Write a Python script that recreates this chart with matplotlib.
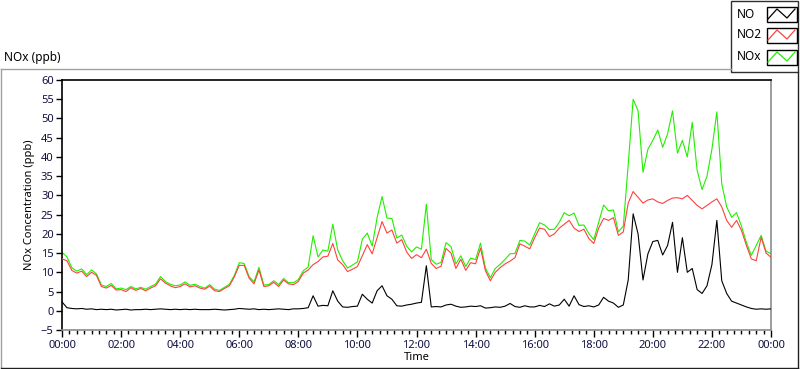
import matplotlib
matplotlib.use("Agg")
import matplotlib.pyplot as plt
import numpy as np
from matplotlib.lines import Line2D
from matplotlib.patches import Rectangle

plt.rcParams['font.family'] = ['Noto Sans', 'DejaVu Sans']

# NOx-mätning, ett värde var 10:e minut (00:00 - 24:00)
sample_step_min = 10

no_ppb = [
    2.3, 0.8, 0.6, 0.5, 0.6, 0.4,
    0.5, 0.3, 0.4, 0.3, 0.4, 0.2,
    0.3, 0.4, 0.2, 0.3, 0.3, 0.4,
    0.3, 0.4, 0.5, 0.4, 0.3, 0.4,
    0.3, 0.4, 0.3, 0.4, 0.3, 0.3,
    0.3, 0.4, 0.3, 0.2, 0.3, 0.4,
    0.6, 0.5, 0.4, 0.5, 0.3, 0.4,
    0.3, 0.4, 0.5, 0.4, 0.3, 0.5,
    0.5, 0.6, 0.8, 3.9, 1.2, 1.4,
    1.3, 5.2, 2.5, 1.0, 0.9, 1.1,
    1.2, 4.3, 3.0, 2.0, 5.2, 6.5,
    3.9, 3.0, 1.3, 1.2, 1.5, 1.7,
    2.0, 2.2, 11.7, 1.0, 1.1, 1.0,
    1.5, 1.7, 1.2, 0.9, 1.0, 1.2,
    1.1, 1.3, 0.7, 0.8, 1.0, 0.9,
    1.2, 1.9, 1.1, 0.9, 1.3, 1.0,
    1.0, 1.4, 1.1, 1.8, 1.2, 1.5,
    3.0, 1.2, 3.9, 1.6, 1.1, 1.3,
    1.0, 1.5, 3.5, 2.5, 2.0, 0.9,
    1.5, 8.0, 25.2, 20.0, 8.0, 14.8,
    18.0, 18.3, 14.5, 17.0, 23.0, 10.0,
    19.0, 10.0, 11.0, 5.5, 4.5, 6.5,
    12.0, 23.5, 7.8, 4.5, 2.5, 2.0,
    1.5, 1.0, 0.6, 0.4, 0.5, 0.4,
    0.5,
]

no2_ppb = [
    13.5, 13.0, 10.5, 9.8, 10.3, 8.9,
    10.0, 9.2, 6.3, 5.9, 6.6, 5.4,
    5.5, 5.0, 6.0, 5.3, 5.8, 5.2,
    5.9, 6.5, 8.3, 7.2, 6.5, 6.0,
    6.3, 7.0, 6.2, 6.5, 5.9, 5.6,
    6.4, 5.2, 5.0, 5.8, 6.5, 8.8,
    11.8, 11.8, 8.5, 7.0, 10.6, 6.3,
    6.5, 7.4, 6.3, 8.0, 7.0, 6.8,
    7.6, 9.8, 10.6, 12.0, 12.8, 14.0,
    14.2, 17.5, 13.2, 12.0, 10.2, 10.8,
    11.5, 14.3, 17.2, 14.8, 19.0, 23.2,
    20.2, 21.0, 17.6, 18.5, 15.3, 13.6,
    14.6, 13.8, 16.0, 12.3, 11.0, 11.6,
    16.2, 15.0, 11.0, 13.4, 10.5, 12.5,
    12.2, 16.3, 10.4, 7.8, 10.0, 11.2,
    12.2, 12.9, 13.8, 17.4, 16.8, 16.1,
    19.0, 21.5, 21.2, 19.3, 20.0, 21.5,
    22.5, 23.5, 21.5, 20.6, 21.2, 18.8,
    17.5, 21.5, 24.0, 23.5, 24.2, 19.6,
    20.5, 28.0, 31.0, 29.5, 28.0, 28.8,
    29.1, 28.3, 27.9, 28.7, 29.3, 29.4,
    29.1, 30.0, 28.7, 27.4, 26.5, 27.4,
    28.3, 29.1, 27.0, 23.5, 21.7, 23.5,
    20.9, 17.0, 13.5, 13.0, 19.1, 15.0,
    13.9,
]

nox_ppb = [
    15.2, 14.0, 11.2, 10.3, 10.9, 9.4,
    10.6, 9.6, 6.7, 6.3, 7.1, 5.7,
    5.9, 5.5, 6.3, 5.7, 6.1, 5.6,
    6.3, 6.9, 8.9, 7.6, 6.9, 6.5,
    6.7, 7.5, 6.6, 6.9, 6.3, 5.9,
    6.8, 5.6, 5.3, 6.1, 6.9, 9.2,
    12.5, 12.3, 8.9, 7.5, 11.3, 6.7,
    6.8, 7.8, 6.8, 8.4, 7.3, 7.3,
    8.1, 10.4, 11.4, 19.5, 14.0, 15.8,
    15.5, 22.5, 15.8, 13.0, 11.1, 11.9,
    12.7, 18.6, 20.2, 16.8, 24.2, 29.7,
    24.1, 24.0, 18.9, 19.7, 16.8, 15.3,
    16.6, 16.0, 27.7, 13.3, 12.1, 12.6,
    17.7, 16.7, 12.2, 14.3, 11.5, 13.7,
    13.3, 17.6, 11.1, 8.6, 11.0, 12.1,
    13.4, 14.8, 14.9, 18.3, 18.1, 17.1,
    20.0, 22.9, 22.3, 21.1, 21.2, 23.0,
    25.5, 24.7, 25.4, 22.2, 22.3, 20.1,
    18.5, 23.0, 27.5, 26.0, 26.2, 20.5,
    22.0, 38.0, 55.0, 52.0, 36.0, 42.0,
    44.3, 47.0, 42.5, 46.0, 52.0, 41.0,
    44.3, 40.0, 49.0, 36.5, 31.5, 35.0,
    42.0, 51.7, 33.0, 27.0, 24.3, 25.5,
    22.0, 17.8, 14.4, 17.0, 19.6, 15.5,
    14.8,
]

tick_hours = [0, 2, 4, 6, 8, 10, 12, 14, 16, 18, 20, 22, 24]
tick_labels = ["00:00", "02:00", "04:00", "06:00", "08:00", "10:00", "12:00",
               "14:00", "16:00", "18:00", "20:00", "22:00", "00:00"]
series_names = ["NO", "NO2", "NOx"]
series_colors = ["#000000", "#ff4040", "#22ee00"]

t_hours = np.arange(len(no_ppb)) * sample_step_min / 60.0

W, H = 800, 369
fig = plt.figure(figsize=(W / 100, H / 100), dpi=100)


def fx(x):
    return x / W


def fy(y):
    return 1 - y / H


# yttre ram runt diagrammet
fig.add_artist(Line2D([fx(1), fx(731)], [fy(68.5), fy(68.5)], color="#a0a0a0", lw=1))
fig.add_artist(Line2D([fx(1), fx(1)], [fy(68.5), fy(367)], color="#a0a0a0", lw=1))
fig.add_artist(Line2D([fx(1), fx(798)], [fy(367.5), fy(367.5)], color="#202020", lw=1))
fig.add_artist(Line2D([fx(798), fx(798)], [fy(72), fy(367.5)], color="#202020", lw=1))

ax = fig.add_axes([fx(62), fy(330), fx(771) - fx(62), fy(80) - fy(330)])

# grön först så att röd och svart hamnar ovanpå
ax.plot(t_hours, nox_ppb, color=series_colors[2], lw=0.8, zorder=2)
ax.plot(t_hours, no2_ppb, color=series_colors[1], lw=0.8, zorder=3)
ax.plot(t_hours, no_ppb, color=series_colors[0], lw=0.8, zorder=4)

ax.set_xlim(0, 24)
ax.set_ylim(-5, 60)
ax.set_yticks(np.arange(-5, 61, 5))
ax.set_xticks(tick_hours)
ax.set_xticklabels(tick_labels)
ax.set_xticks(np.arange(0, 24.01, 0.25), minor=True)

ax.tick_params(axis="both", which="major", labelsize=8, colors="#000000", width=1)
ax.tick_params(axis="x", which="major", length=5, pad=2)
ax.tick_params(axis="x", which="minor", length=3, width=1)
ax.tick_params(axis="y", which="major", length=4, pad=2)
for lab in ax.get_xticklabels() + ax.get_yticklabels():
    lab.set_color("#101040")

ax.spines["left"].set_color("#000000")
ax.spines["top"].set_color("#000000")
ax.spines["right"].set_color("#8c8c8c")
ax.spines["bottom"].set_color("#8c8c8c")
for s in ax.spines.values():
    s.set_linewidth(1.2)

ax.set_xlabel("Time", fontsize=8, labelpad=1)
ax.set_ylabel("NOx Concentration (ppb)", fontsize=8, labelpad=4)

fig.text(fx(4), fy(58), "NOx (ppb)", fontsize=8.5, ha="left", va="center")

# egen legend-ruta uppe till höger
fig.add_artist(Rectangle((fx(730.5), fy(72)), fx(798) - fx(730.5), fy(0.5) - fy(72),
                         facecolor="white", edgecolor="#303030", lw=1))
legend_y = [14, 35, 57]
for name, col, yc in zip(series_names, series_colors, legend_y):
    fig.text(fx(737), fy(yc), name, fontsize=8.5, ha="left", va="center")
    fig.add_artist(Rectangle((fx(766.5), fy(yc + 8)), fx(30), fy(0) - fy(15),
                             facecolor="white", edgecolor="#000000", lw=1))
    fig.add_artist(Line2D([fx(768), fx(777), fx(787), fx(795)],
                          [fy(yc + 5), fy(yc - 5), fy(yc + 4), fy(yc - 5)],
                          color=col, lw=0.9))

fig.savefig("out.png", dpi=100)
